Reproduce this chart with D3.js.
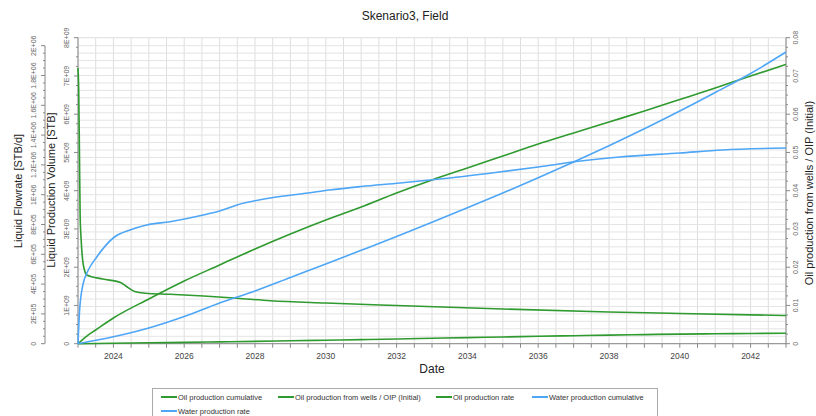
<!DOCTYPE html>
<html><head><meta charset="utf-8">
<script src="https://cdn.jsdelivr.net/npm/d3@7"></script>
<style>
html,body{margin:0;padding:0;background:#fff;}
svg{display:block;font-family:"Liberation Sans",Arial,sans-serif;}
</style></head>
<body><svg id="c" width="816" height="416"></svg>
<script>
// ---------- data (decimal years) ----------
const oilCumYears = [2023,2024,2025,2026,2027,2028,2029,2030,2031,2032,2033,2034,2035,2036,2037,2038,2039,2040,2041,2042,2043];
const oilCum = [0,0.0105e9,0.0235e9,0.034e9,0.047e9,0.060e9,0.076e9,0.0915e9,0.107e9,0.123e9,0.141e9,0.159e9,0.175e9,0.193e9,0.209e9,0.225e9,0.238e9,0.251e9,0.259e9,0.267e9,0.275e9];

const oipYears = [2023,2023.25,2023.5,2024,2025,2026,2027,2028,2029,2030,2031,2032,2033,2034,2035,2036,2037,2038,2039,2040,2041,2042,2043];
const oipRatio = [0,0.00201,0.00358,0.00672,0.01169,0.01639,0.02058,0.02476,0.02868,0.03234,0.03574,0.03940,0.04280,0.04593,0.04907,0.05221,0.05508,0.05796,0.06083,0.06384,0.06685,0.06999,0.07299];

const oilRateYears = [2023,2023.02,2023.04,2023.06,2023.09,2023.15,2023.25,2023.7,2024.2,2024.35,2024.6,2024.9,2025.6,2026.55,2027.5,2028.43,2030,2032,2035,2038,2040,2043];
const oilRate = [1850300,1702700,1300000,863700,694500,529800,461100,434200,410700,387300,350300,338200,331500,320100,304700,288600,273100,256400,232900,212800,202700,189300];

const waterCumYears = [2023,2024,2025,2026,2027,2028,2029,2030,2031,2032,2033,2034,2035,2036,2037,2038,2039,2040,2041,2042,2043];
const waterCum = [0,0.18e9,0.410e9,0.711e9,1.064e9,1.378e9,1.731e9,2.084e9,2.442e9,2.803e9,3.174e9,3.553e9,3.940e9,4.337e9,4.750e9,5.176e9,5.620e9,6.083e9,6.567e9,7.064e9,7.626e9];

const waterRateYears = [2023,2023.04,2023.11,2023.15,2023.25,2023.53,2024.03,2024.47,2024.94,2025.6,2026.54,2027.0,2027.49,2028.43,2029.5,2030.1,2031,2032.1,2033.5,2034.9,2036,2037.2,2038.3,2040,2041.2,2043];
const waterRate = [0,206000,360400,407400,474500,581900,716100,763100,796600,818800,863700,890600,930900,977900,1011400,1031500,1055000,1078500,1112100,1152300,1185900,1226200,1253000,1279900,1300000,1313400];

const xTickYears = [2024,2026,2028,2030,2032,2034,2036,2038,2040,2042];
const flowTicks = [0,2e5,4e5,6e5,8e5,1e6,1.2e6,1.4e6,1.6e6,1.8e6,2e6];
const flowTickLabels = ["0","2E+05","4E+05","6E+05","8E+05","1E+06","1.2E+06","1.4E+06","1.6E+06","1.8E+06","2E+06"];
const volTicks = [0,1e9,2e9,3e9,4e9,5e9,6e9,7e9,8e9];
const volTickLabels = ["0","1E+09","2E+09","3E+09","4E+09","5E+09","6E+09","7E+09","8E+09"];
const ratioTicks = [0,0.01,0.02,0.03,0.04,0.05,0.06,0.07,0.08];
const ratioTickLabels = ["0","0.01","0.02","0.03","0.04","0.05","0.06","0.07","0.08"];

const legendNames = ["Oil production cumulative","Oil production from wells / OIP (Initial)","Oil production rate","Water production cumulative","Water production rate"];

// ---------- layout ----------
const GREEN = "#2f9a2f", BLUE = "#4ea6f7";
const svg = d3.select("#c");
const L = 78, R = 786, B = 343.7, T = 37.7;
const x = d3.scaleLinear().domain([2023,2043]).range([L,R]);
const yFlow = d3.scaleLinear().domain([0,2e6]).range([B,45.7]);
const yVol = d3.scaleLinear().domain([0,8e9]).range([B,T]);
const yRat = d3.scaleLinear().domain([0,0.08]).range([B,T]);

// grid
const g = svg.append("g");
d3.range(2023,2043.01,0.5).forEach(v=>{
  g.append("line").attr("x1",x(v)).attr("x2",x(v)).attr("y1",T).attr("y2",B)
   .attr("stroke","#dedede").attr("stroke-width",1);
});
d3.range(0,2e6+1,5e4).forEach(v=>{
  g.append("line").attr("x1",L).attr("x2",R).attr("y1",yFlow(v)).attr("y2",yFlow(v))
   .attr("stroke","#e4e4e4").attr("stroke-width",1);
});
g.append("line").attr("x1",L).attr("x2",R).attr("y1",T).attr("y2",T).attr("stroke","#dedede");

// axes
const axCol = "#888", txtCol = "#444";
svg.append("line").attr("x1",L).attr("x2",R).attr("y1",B).attr("y2",B).attr("stroke",axCol);
d3.range(2023,2043.01,0.5).forEach(v=>{
  svg.append("line").attr("x1",x(v)).attr("x2",x(v)).attr("y1",B).attr("y2",B+4).attr("stroke",axCol);
});
xTickYears.forEach(v=>{
  svg.append("text").attr("x",x(v)).attr("y",B+15).attr("text-anchor","middle")
   .attr("font-size",8.5).attr("fill",txtCol).text(String(v));
});
svg.append("text").attr("x",432).attr("y",373).attr("text-anchor","middle")
  .attr("font-size",12).attr("fill","#222").text("Date");

// outer left axis (flow)
const OX = 45;
svg.append("line").attr("x1",OX).attr("x2",OX).attr("y1",yFlow(2e6)).attr("y2",B).attr("stroke",axCol);
d3.range(0,2e6+1,5e4).forEach((v,i)=>{
  const len = (i%4===0)?4:2;
  svg.append("line").attr("x1",OX-len).attr("x2",OX).attr("y1",yFlow(v)).attr("y2",yFlow(v)).attr("stroke",axCol);
});
flowTicks.forEach((v,i)=>{
  svg.append("text").attr("transform",`translate(36,${yFlow(v)}) rotate(-90)`)
   .attr("text-anchor","middle").attr("font-size",7).attr("fill","#666").text(flowTickLabels[i]);
});
svg.append("text").attr("transform",`translate(22,191) rotate(-90)`).attr("text-anchor","middle")
  .attr("font-size",11).attr("fill","#222").text("Liquid Flowrate [STB/d]");

// inner left axis (volume)
svg.append("line").attr("x1",L).attr("x2",L).attr("y1",T).attr("y2",B).attr("stroke",axCol);
d3.range(0,8e9+1,2.5e8).forEach((v,i)=>{
  const len = (i%4===0)?4:2;
  svg.append("line").attr("x1",L-len).attr("x2",L).attr("y1",yVol(v)).attr("y2",yVol(v)).attr("stroke",axCol);
});
volTicks.forEach((v,i)=>{
  svg.append("text").attr("transform",`translate(69,${yVol(v)}) rotate(-90)`)
   .attr("text-anchor","middle").attr("font-size",7).attr("fill","#666").text(volTickLabels[i]);
});
svg.append("text").attr("transform",`translate(55,190) rotate(-90)`).attr("text-anchor","middle")
  .attr("font-size",11).attr("fill","#222").text("Liquid Production Volume [STB]");

// right axis (ratio)
svg.append("line").attr("x1",R).attr("x2",R).attr("y1",T).attr("y2",B).attr("stroke",axCol);
d3.range(0,0.0801,0.0025).forEach((v,i)=>{
  const len = (i%4===0)?4:2;
  svg.append("line").attr("x1",R).attr("x2",R+len).attr("y1",yRat(v)).attr("y2",yRat(v)).attr("stroke",axCol);
});
ratioTicks.forEach((v,i)=>{
  svg.append("text").attr("transform",`translate(798,${yRat(v)}) rotate(-90)`)
   .attr("text-anchor","middle").attr("font-size",7).attr("fill","#666").text(ratioTickLabels[i]);
});
svg.append("text").attr("transform",`translate(813,193) rotate(-90)`).attr("text-anchor","middle")
  .attr("font-size",11).attr("fill","#222").text("Oil production from wells / OIP (Initial)");

// title
svg.append("text").attr("x",405).attr("y",20).attr("text-anchor","middle")
  .attr("font-size",12).attr("fill","#222").text("Skenario3, Field");

// lines
function draw(xs, ys, yScale, color){
  const pts = xs.map((v,i)=>[x(v), yScale(ys[i])]);
  svg.append("path").attr("d", d3.line().curve(d3.curveMonotoneX)(pts)).attr("fill","none")
    .attr("stroke",color).attr("stroke-width",1.6).attr("stroke-linejoin","round");
}
draw(oilCumYears, oilCum, yVol, GREEN);
draw(oipYears, oipRatio, yRat, GREEN);
draw(oilRateYears, oilRate, yFlow, GREEN);
draw(waterCumYears, waterCum, yVol, BLUE);
draw(waterRateYears, waterRate, yFlow, BLUE);

// legend
svg.append("rect").attr("x",152.5).attr("y",388.5).attr("width",505).attr("height",40)
  .attr("fill","#fff").attr("stroke","#aaa");
const legPos = [[161,397],[278,397],[436,397],[532,397],[161,411]];
const legCol = [GREEN,GREEN,GREEN,BLUE,BLUE];
legendNames.forEach((n,i)=>{
  const [lx,ly] = legPos[i];
  svg.append("line").attr("x1",lx).attr("x2",lx+16).attr("y1",ly).attr("y2",ly)
    .attr("stroke",legCol[i]).attr("stroke-width",2);
  svg.append("text").attr("x",lx+17).attr("y",ly+2.7).attr("font-size",7.5).attr("fill","#333").text(n);
});
</script></body></html>
